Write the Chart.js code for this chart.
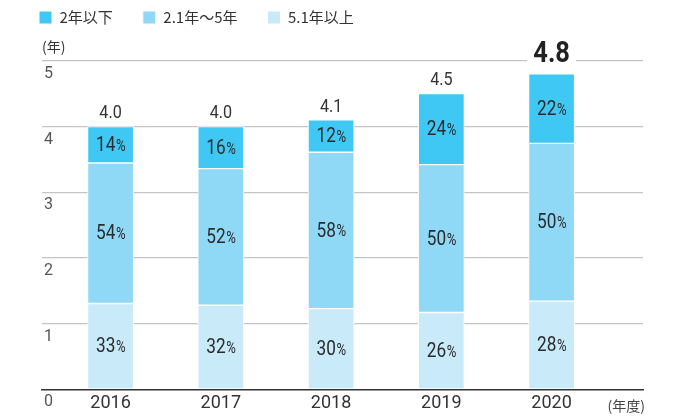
<!DOCTYPE html>
<html lang="ja">
<head>
    <meta charset="UTF-8">
    <script src="https://cdn.jsdelivr.net/npm/chart.js"></script>
    <title>平均勤続年数</title>
    <style>
        html, body { margin: 0; padding: 0; background: #fff; }
        .wrap { width: 678px; height: 419px; }
    </style>
</head>
<body>
    <div class="wrap"><canvas id="tenureChart" width="678" height="419"></canvas></div>
    <script>
        // data
        const years = [2016, 2017, 2018, 2019, 2020];
        const totals = [4.0, 4.0, 4.1, 4.5, 4.8];
        const shareShort = [14, 16, 12, 24, 22];   // 2年以下
        const shareMid = [54, 52, 58, 50, 50];     // 2.1年～5年
        const shareLong = [33, 32, 30, 26, 28];    // 5.1年以上
        const yTicks = [0, 1, 2, 3, 4, 5];

        const SANS = "Roboto, 'Liberation Sans', sans-serif";
        const JP = "'Noto Sans CJK JP', sans-serif";

        // segment height in years = total * share (shares normalised, 2016 adds up to 101)
        function seg(shares) {
            return years.map((y, i) => {
                const sum = shareShort[i] + shareMid[i] + shareLong[i];
                return { x: y, y: totals[i] * shares[i] / sum };
            });
        }

        // no condensed face installed, so squeeze the text a bit
        function narrowText(ctx, txt, x, y, font, sx) {
            ctx.save();
            ctx.font = font;
            ctx.translate(x, y);
            ctx.scale(sx, 1);
            ctx.fillText(txt, 0, 0);
            ctx.restore();
        }

        const barLabels = {
            id: 'barLabels',
            afterDatasetsDraw(chart) {
                const ctx = chart.ctx;
                const shareSets = [shareLong, shareMid, shareShort];
                const sx = 0.82;
                ctx.save();
                ctx.textBaseline = 'middle';
                ctx.textAlign = 'left';
                ctx.fillStyle = '#2b2b2b';
                shareSets.forEach((shares, i) => {
                    chart.getDatasetMeta(i).data.forEach((bar, j) => {
                        const cy = (bar.y + bar.base) / 2 + 1;
                        const num = String(shares[j]);
                        const f1 = '21px ' + SANS;
                        const f2 = '16px ' + SANS;
                        ctx.font = f1;
                        const w1 = ctx.measureText(num).width * sx;
                        ctx.font = f2;
                        const w2 = ctx.measureText('%').width * sx;
                        const x0 = bar.x - (w1 + w2) / 2;
                        narrowText(ctx, num, x0, cy, f1, sx);
                        narrowText(ctx, '%', x0 + w1 + 0.5, cy + 1, f2, sx);
                    });
                });

                // totals above the bars
                ctx.textAlign = 'center';
                chart.getDatasetMeta(2).data.forEach((bar, j) => {
                    const txt = totals[j].toFixed(1);
                    if (j === years.length - 1) {
                        const f = 'bold 30px ' + SANS;
                        ctx.font = f;
                        const w = ctx.measureText(txt).width * 0.85;
                        ctx.fillStyle = '#fff';
                        ctx.fillRect(bar.x - w / 2 - 6, bar.y - 36, w + 12, 32);
                        ctx.fillStyle = '#222';
                        narrowText(ctx, txt, bar.x, bar.y - 19, f, 0.85);
                    } else {
                        ctx.fillStyle = '#333';
                        narrowText(ctx, txt, bar.x, bar.y - 13, '19px ' + SANS, 0.85);
                    }
                });

                // unit under the axis
                const area = chart.chartArea;
                ctx.font = '14px ' + JP;
                ctx.fillStyle = '#444';
                ctx.textAlign = 'right';
                ctx.fillText('(年度)', area.right + 2, area.bottom + 16);
                ctx.restore();
            }
        };

        new Chart(document.getElementById('tenureChart'), {
            type: 'bar',
            data: {
                datasets: [
                    { label: '5.1年以上', data: seg(shareLong), backgroundColor: '#c8eaf9' },
                    { label: '2.1年～5年', data: seg(shareMid), backgroundColor: '#8fd8f6' },
                    { label: '2年以下', data: seg(shareShort), backgroundColor: '#3fc8f4' }
                ]
            },
            options: {
                responsive: false,
                animation: false,
                events: [],
                layout: { padding: { left: 9, right: 35, top: -20, bottom: 2 } },
                datasets: {
                    bar: { barThickness: 46, borderColor: '#fff', borderWidth: 1, borderSkipped: false }
                },
                scales: {
                    x: {
                        type: 'linear',
                        stacked: true,
                        offset: false,
                        min: 2015.378,
                        max: 2020.829,
                        afterBuildTicks: (axis) => { axis.ticks = years.map(v => ({ value: v })); },
                        grid: { display: false, drawTicks: false },
                        border: { display: true, color: '#333', width: 1.5, z: 1 },
                        ticks: {
                            padding: 3,
                            color: '#333',
                            font: { family: SANS, size: 18 },
                            callback: (v) => String(v)
                        }
                    },
                    y: {
                        stacked: true,
                        min: 0,
                        max: 5,
                        afterBuildTicks: (axis) => { axis.ticks = yTicks.map(v => ({ value: v })); },
                        grid: {
                            color: (c) => c.tick && c.tick.value === 0 ? 'rgba(0,0,0,0)' : '#c4c4c4',
                            lineWidth: 1.2,
                            drawTicks: true,
                            tickLength: 29,
                            tickColor: 'rgba(0,0,0,0)'
                        },
                        border: { display: false },
                        ticks: {
                            mirror: true,
                            padding: 2,
                            labelOffset: 13,
                            color: '#555',
                            font: { family: SANS, size: 16 },
                            callback: (v) => String(v)
                        }
                    }
                },
                plugins: {
                    tooltip: { enabled: false },
                    legend: {
                        position: 'top',
                        align: 'start',
                        reverse: true,
                        labels: {
                            boxWidth: 13,
                            boxHeight: 13,
                            padding: 30,
                            color: '#333',
                            font: { family: JP, size: 15 }
                        }
                    },
                    title: {
                        display: true,
                        text: '(年)',
                        align: 'start',
                        fullSize: false,
                        weight: 500,
                        color: '#333',
                        padding: { top: 3, bottom: 6 },
                        font: { family: JP, size: 14, weight: 'normal' }
                    }
                }
            },
            plugins: [barLabels]
        });
    </script>
</body>
</html>
